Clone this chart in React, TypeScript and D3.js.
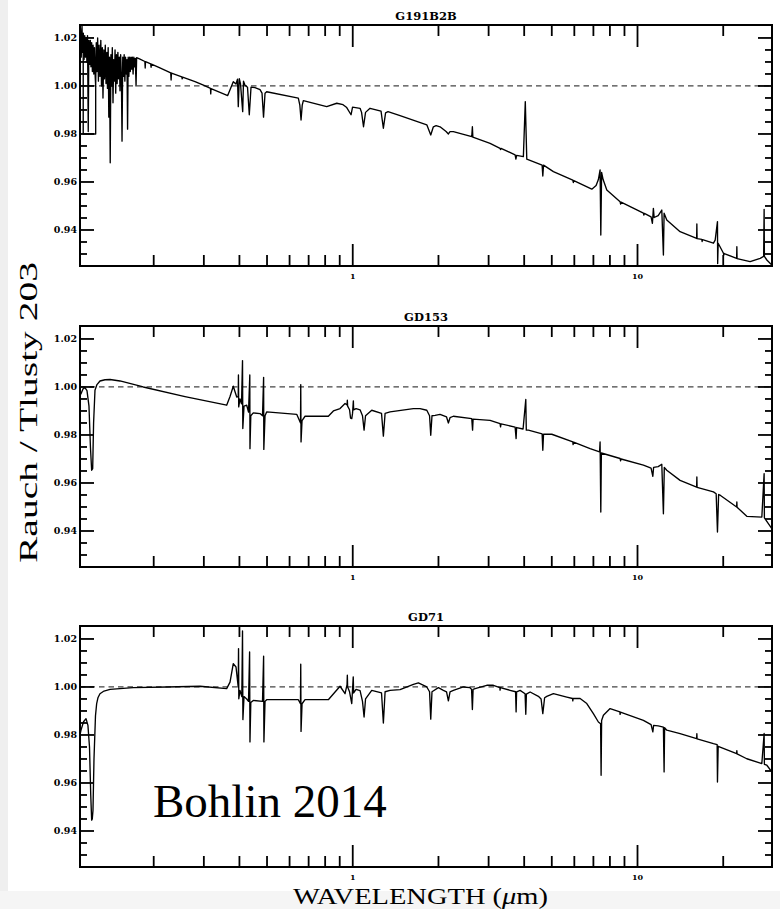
import React from 'react';
import * as d3 from 'd3';

// ---------- data (wavelength in micron, ratio Rauch / Tlusty 203) ----------
const PANEL_TITLES = ['G191B2B', 'GD153', 'GD71'];
const X_DOMAIN: [number, number] = [0.1102, 29.67];
const Y_DOMAIN: [number, number] = [0.925, 1.0254];
const X_MAJOR_TICKS = [1, 10];
const X_MINOR_TICKS = [0.2, 0.3, 0.4, 0.5, 0.6, 0.7, 0.8, 0.9, 2, 3, 4, 5, 6, 7, 8, 9, 20];
const X_TICK_LABELS = ['1', '10'];
const Y_MAJOR_TICKS = [0.94, 0.96, 0.98, 1.0, 1.02];
const Y_MINOR_TICKS = [0.93, 0.935, 0.945, 0.95, 0.955, 0.965, 0.97, 0.975, 0.985, 0.99, 0.995, 1.005, 1.01, 1.015];
const REFERENCE_LEVEL = 1.0;
const X_TITLE = 'WAVELENGTH (';
const X_TITLE_UNIT = 'μ';
const Y_TITLE = 'Rauch / Tlusty 203';
const ANNOTATION = 'Bohlin 2014';

const G191B2B_STEP: [number, number][] = [
  [0.1251, 1.0], [0.1251, 0.98], [0.1131, 0.98], [0.1131, 1.022],
];

const G191B2B_SPEC: [number, number][] = [
  [0.1102, 1.010], [0.1106, 1.024], [0.1113, 1.012], [0.1120, 1.025], [0.1126, 1.014], [0.1132, 1.022],
  [0.1139, 1.011], [0.1145, 1.021], [0.1152, 1.012], [0.1159, 1.020], [0.1165, 1.010], [0.1171, 1.021],
  [0.1178, 0.981], [0.1184, 1.019], [0.1191, 1.009], [0.1198, 1.019], [0.1204, 1.008], [0.1211, 1.018],
  [0.1218, 1.006], [0.1225, 1.017], [0.1232, 1.005], [0.1239, 1.016], [0.1246, 1.004], [0.1251, 1.000],
  [0.1257, 1.018], [0.1264, 1.006], [0.1271, 1.020], [0.1279, 1.002], [0.1286, 1.017], [0.1295, 1.004],
  [0.1304, 1.019], [0.1311, 1.000], [0.1320, 1.016], [0.1327, 0.995], [0.1336, 1.015], [0.1343, 1.003],
  [0.1352, 1.017], [0.1360, 1.001], [0.1369, 1.014], [0.1376, 0.999], [0.1384, 1.016], [0.1391, 0.987],
  [0.1399, 1.012], [0.1407, 0.968], [0.1415, 1.013], [0.1423, 1.000], [0.1431, 1.016], [0.1439, 0.993],
  [0.1447, 1.011], [0.1456, 1.002], [0.1463, 1.015], [0.1471, 0.997], [0.1480, 1.013], [0.1488, 1.001],
  [0.1497, 1.014], [0.1505, 1.003], [0.1514, 1.012], [0.1523, 0.998], [0.1531, 1.013], [0.1540, 1.004],
  [0.1548, 0.977], [0.1557, 1.012], [0.1566, 1.004], [0.1575, 1.013], [0.1584, 1.002], [0.1593, 1.012],
  [0.1602, 1.005], [0.1611, 1.011], [0.1619, 0.982], [0.1627, 1.012], [0.1636, 1.004], [0.1646, 1.012],
  [0.1655, 1.006], [0.1665, 1.012], [0.1674, 1.007], [0.1683, 1.012], [0.1693, 1.005], [0.1703, 1.012],
  [0.1713, 1.008], [0.1723, 1.0115], [0.1734, 1.000], [0.1742, 1.0118],
  [0.1790, 1.0112], [0.1862, 1.0102], [0.1867, 1.0075], [0.1872, 1.0101], [0.1952, 1.0092], [0.1958, 1.0078],
  [0.1964, 1.0091], [0.2103, 1.0075], [0.2295, 1.0055], [0.2302, 1.0025], [0.2309, 1.0054], [0.2510, 1.0038],
  [0.2518, 1.0030], [0.2526, 1.0037], [0.2793, 1.0018], [0.3004, 1.0002], [0.3165, 0.9990], [0.3172, 0.9967],
  [0.3179, 0.9989], [0.3638, 0.9960],
  [0.3806, 1.0018], [0.3891, 1.0008], [0.3938, 1.0028], [0.3963, 0.9914], [0.3995, 1.0030], [0.4034, 1.0010],
  [0.4107, 0.9893], [0.4134, 1.0020], [0.4184, 1.0003], [0.4270, 0.9995], [0.4332, 0.9880], [0.4393, 0.9995],
  [0.4537, 0.9993], [0.4725, 0.9985], [0.4802, 0.9970], [0.4861, 0.9870], [0.4920, 0.9970], [0.4985, 0.9976],
  [0.6440, 0.9949], [0.6519, 0.9920], [0.6583, 0.9858], [0.6647, 0.9920], [0.6707, 0.9939], [0.8101, 0.9914],
  [0.8787, 0.9928], [0.9245, 0.9922], [0.9526, 0.9910], [0.9863, 0.9880], [0.9984, 0.9912], [1.061, 0.9907],
  [1.074, 0.9890], [1.091, 0.9830], [1.109, 0.9890], [1.150, 0.9907], [1.257, 0.9895], [1.281, 0.9824],
  [1.304, 0.9888], [1.330, 0.9893], [1.466, 0.9876], [1.820, 0.9838], [1.879, 0.9796], [1.919, 0.9830],
  [1.962, 0.9835], [2.026, 0.9830], [2.127, 0.9810], [2.167, 0.9800], [2.196, 0.9810], [2.256, 0.9810],
  [2.618, 0.9789], [2.631, 0.9830], [2.641, 0.9787], [3.036, 0.9761], [3.291, 0.9740], [3.304, 0.9735],
  [3.317, 0.9740], [3.717, 0.9713], [3.741, 0.9695], [3.762, 0.9711], [3.974, 0.9706], [4.036, 0.9935],
  [4.085, 0.9695], [4.624, 0.9670], [4.650, 0.9625], [4.677, 0.9670], [5.066, 0.9643], [5.926, 0.9608],
  [5.951, 0.9598], [5.975, 0.9606], [6.911, 0.9570], [7.155, 0.9585], [7.288, 0.9610], [7.389, 0.9650],
  [7.432, 0.9379], [7.481, 0.9640], [7.572, 0.9610], [7.802, 0.9567], [8.687, 0.9518], [8.722, 0.9508],
  [8.757, 0.9516], [10.49, 0.9470], [10.53, 0.9462], [10.57, 0.9469], [11.16, 0.9455], [11.28, 0.9428],
  [11.37, 0.9490], [11.44, 0.9452], [11.82, 0.9460], [12.17, 0.9483], [12.33, 0.9296], [12.40, 0.9470],
  [12.67, 0.9442], [14.11, 0.9393], [16.13, 0.9365], [16.16, 0.9425], [16.19, 0.9364], [16.82, 0.9361],
  [16.86, 0.9352], [16.92, 0.9360], [18.48, 0.9345], [18.74, 0.9358], [19.09, 0.9435], [19.12, 0.9260],
  [19.20, 0.9345], [20.04, 0.9303], [20.09, 0.9295], [20.16, 0.9302], [22.29, 0.9282], [22.33, 0.9330],
  [22.37, 0.9281], [24.86, 0.9268], [26.96, 0.9282], [27.73, 0.9290], [27.84, 0.9486], [27.90, 0.9290],
  [28.46, 0.9275], [29.63, 0.9254],
];

const GD153_SPEC: [number, number][] = [
  [0.1102, 0.9965], [0.1111, 0.9972], [0.1129, 0.9992], [0.1147, 0.9997], [0.1166, 0.9985], [0.1185, 0.9920],
  [0.1199, 0.9750], [0.1211, 0.9653], [0.1221, 0.9660], [0.1230, 0.9850], [0.1244, 0.9986], [0.1264, 1.0010],
  [0.1295, 1.0025], [0.1349, 1.0030], [0.1405, 1.0031], [0.1523, 1.0025], [0.1838, 1.0000], [0.2576, 0.9960],
  [0.3608, 0.9924], [0.3707, 0.9960], [0.3806, 1.0003], [0.3860, 0.9980], [0.3913, 0.9958], [0.3961, 0.9960],
  [0.3968, 1.0050], [0.3977, 0.9917], [0.4018, 0.9950], [0.4068, 0.9930], [0.4101, 1.0110], [0.4111, 0.9827],
  [0.4151, 0.9920], [0.4243, 0.9924], [0.4305, 0.9895], [0.4350, 1.0050], [0.4356, 0.9743], [0.4385, 0.9880],
  [0.4474, 0.9892], [0.4725, 0.9889], [0.4821, 0.9880], [0.4864, 1.0040], [0.4872, 0.9740], [0.4920, 0.9880],
  [0.4985, 0.9896], [0.6357, 0.9886], [0.6556, 0.9850], [0.6567, 1.0010], [0.6583, 0.9771], [0.6637, 0.9860],
  [0.6800, 0.9878], [0.8208, 0.9878], [0.8550, 0.9900], [0.9024, 0.9910], [0.9397, 0.9931], [0.9550, 0.9925],
  [0.9572, 0.9945], [0.9596, 0.9920], [0.9745, 0.9905], [0.9824, 0.9870], [0.9920, 0.9868], [0.9984, 0.9890],
  [1.005, 0.9942], [1.0073, 0.9905], [1.027, 0.9910], [1.061, 0.9905], [1.082, 0.9880], [1.096, 0.9820],
  [1.109, 0.9880], [1.166, 0.9903], [1.262, 0.9890], [1.281, 0.9795], [1.299, 0.9890], [1.352, 0.9896],
  [1.633, 0.9910], [1.723, 0.9910], [1.820, 0.9903], [1.861, 0.9880], [1.879, 0.9799], [1.898, 0.9880],
  [1.946, 0.9882], [2.026, 0.9886], [2.135, 0.9875], [2.167, 0.9850], [2.196, 0.9872], [2.256, 0.9878],
  [2.618, 0.9868], [2.635, 0.9820], [2.646, 0.9866], [3.036, 0.9861], [3.291, 0.9847], [3.304, 0.9834],
  [3.317, 0.9846], [3.717, 0.9833], [3.747, 0.9785], [3.762, 0.9831], [3.964, 0.9825], [4.052, 0.9948],
  [4.069, 0.9820], [4.138, 0.9820], [4.624, 0.9805], [4.650, 0.9736], [4.677, 0.9803], [5.000, 0.9803],
  [5.926, 0.9771], [5.941, 0.9760], [5.965, 0.9770], [6.816, 0.9743], [7.359, 0.9730], [7.389, 0.9771],
  [7.432, 0.9479], [7.466, 0.9725], [8.687, 0.9702], [8.722, 0.9692], [8.757, 0.9700], [10.49, 0.9674],
  [11.16, 0.9662], [11.32, 0.9628], [11.39, 0.9665], [11.82, 0.9668], [12.17, 0.9678], [12.33, 0.9472],
  [12.42, 0.9665], [12.67, 0.9653], [14.11, 0.9611], [16.13, 0.9583], [16.16, 0.9625], [16.19, 0.9582],
  [18.48, 0.9563], [18.89, 0.9555], [19.09, 0.9396], [19.27, 0.9552], [19.51, 0.9549], [22.29, 0.9500],
  [22.33, 0.9521], [22.37, 0.9499], [24.20, 0.9461], [27.33, 0.9458], [27.84, 0.9639], [27.90, 0.9455],
  [29.63, 0.9410],
];

const GD71_SPEC: [number, number][] = [
  [0.1102, 0.9800], [0.1111, 0.9820], [0.1134, 0.9855], [0.1157, 0.9868], [0.1175, 0.9840], [0.1190, 0.9750],
  [0.1202, 0.9550], [0.1211, 0.9445], [0.1217, 0.9450], [0.1224, 0.9486], [0.1234, 0.9700], [0.1249, 0.9880],
  [0.1261, 0.9931], [0.1274, 0.9955], [0.1295, 0.9972], [0.1338, 0.9983], [0.1405, 0.9990], [0.1694, 0.9997],
  [0.2222, 1.0000], [0.2909, 1.0003], [0.3608, 0.9993], [0.3707, 1.0020], [0.3806, 1.0097], [0.3891, 1.0083],
  [0.3961, 1.0000], [0.3971, 1.0160], [0.3980, 0.9951], [0.4018, 0.9986], [0.4078, 0.9960], [0.4101, 1.0233],
  [0.4114, 0.9864], [0.4151, 0.9960], [0.4243, 0.9950], [0.4305, 0.9940], [0.4343, 1.0146], [0.4356, 0.9771],
  [0.4385, 0.9935], [0.4474, 0.9944], [0.4821, 0.9940], [0.4864, 1.0128], [0.4876, 0.9771], [0.4920, 0.9940],
  [0.4985, 0.9947], [0.6440, 0.9947], [0.6552, 0.9930], [0.6567, 1.0095], [0.6583, 0.9815], [0.6637, 0.9930],
  [0.6800, 0.9947], [0.8208, 0.9947], [0.8667, 0.9979], [0.9024, 1.0003], [0.9397, 0.9972], [0.9550, 1.0010],
  [0.9572, 1.0049], [0.9596, 1.0000], [0.9745, 0.9980], [0.9920, 0.9931], [1.004, 1.0042], [1.0073, 0.9975],
  [1.027, 0.9990], [1.061, 0.9985], [1.082, 0.9940], [1.096, 0.9875], [1.109, 0.9950], [1.166, 0.9986],
  [1.262, 0.9975], [1.281, 0.9850], [1.299, 0.9980], [1.352, 0.9986], [1.466, 0.9989], [1.633, 1.0011],
  [1.700, 1.0017], [1.820, 1.0000], [1.861, 0.9980], [1.879, 0.9866], [1.898, 0.9980], [1.999, 0.9997],
  [2.081, 0.9986], [2.135, 0.9980], [2.167, 0.9942], [2.196, 0.9980], [2.256, 0.9986], [2.446, 1.0000],
  [2.582, 0.9997], [2.614, 0.9990], [2.631, 0.9906], [2.646, 0.9990], [2.689, 0.9993], [2.956, 1.0007],
  [3.118, 1.0007], [3.286, 0.9997], [3.291, 0.9987], [3.299, 0.9997], [3.569, 0.9986], [3.731, 0.9980],
  [3.747, 0.9896], [3.762, 0.9980], [3.870, 0.9986], [4.029, 0.9972], [4.052, 0.9886], [4.072, 0.9970],
  [4.196, 0.9979], [4.486, 0.9961], [4.586, 0.9950], [4.650, 0.9889], [4.718, 0.9955], [4.802, 0.9961],
  [5.066, 0.9972], [5.646, 0.9958], [5.916, 0.9952], [5.926, 0.9942], [5.941, 0.9952], [6.287, 0.9952],
  [6.636, 0.9931], [6.999, 0.9889], [7.288, 0.9854], [7.420, 0.9847], [7.450, 0.9632], [7.481, 0.9860],
  [7.590, 0.9882], [8.013, 0.9910], [8.673, 0.9896], [8.687, 0.9886], [8.708, 0.9895], [10.49, 0.9861],
  [11.16, 0.9843], [11.32, 0.9813], [11.39, 0.9840], [11.82, 0.9838], [12.33, 0.9833], [12.40, 0.9646],
  [12.45, 0.9830], [12.67, 0.9820], [14.11, 0.9806], [16.13, 0.9785], [16.16, 0.9805], [16.19, 0.9784],
  [18.48, 0.9764], [19.04, 0.9760], [19.09, 0.9604], [19.20, 0.9753], [22.29, 0.9722], [22.33, 0.9735],
  [22.37, 0.9721], [24.20, 0.9701], [27.33, 0.9681], [27.84, 0.9806], [27.90, 0.9678], [28.46, 0.9674],
  [29.63, 0.9646],
];

const PANEL_SERIES = [[G191B2B_STEP, G191B2B_SPEC], [GD153_SPEC], [GD71_SPEC]];

// ---------- layout ----------
const W = 780;
const H = 909;
const LEFT = 80;
const RIGHT = 772;
const PANEL_TOPS = [25, 326, 626];
const PANEL_H = 241;
const TICK_FONT = '"DejaVu Serif", serif';
const TEXT_FONT = '"Liberation Serif", "Times New Roman", serif';

export default function App() {
  const x = d3.scaleLog().domain(X_DOMAIN).range([LEFT, RIGHT]);
  const fmt = d3.format('.2f');

  return (
    <svg
      width={W}
      height={H}
      style={{ position: 'absolute', left: 0, top: 0, display: 'block' }}
      xmlns="http://www.w3.org/2000/svg"
    >
      <rect x={0} y={0} width={W} height={H} fill="#ffffff" />
      <rect x={0} y={0} width={8} height={H} fill="#efefef" />
      <rect x={0} y={891} width={W} height={H - 891} fill="#f5f5f5" />
      <defs>
        {PANEL_TOPS.map((top, i) => (
          <clipPath id={`clip${i}`} key={i}>
            <rect x={LEFT} y={top} width={RIGHT - LEFT} height={PANEL_H} />
          </clipPath>
        ))}
      </defs>
      {PANEL_TOPS.map((top, i) => {
        const bottom = top + PANEL_H;
        const y = d3.scaleLinear().domain(Y_DOMAIN).range([bottom, top]);
        const line = d3
          .line<[number, number]>()
          .x((d) => x(d[0]))
          .y((d) => y(d[1]));
        return (
          <g key={i}>
            <text
              x={(LEFT + RIGHT) / 2}
              y={top - 5}
              textAnchor="middle"
              fontFamily={TICK_FONT}
              fontWeight="bold"
              fontSize={11.5}
            >
              {PANEL_TITLES[i]}
            </text>
            <line
              x1={LEFT}
              x2={RIGHT}
              y1={y(REFERENCE_LEVEL)}
              y2={y(REFERENCE_LEVEL)}
              stroke="#444"
              strokeWidth={1.3}
              strokeDasharray="5.5,4"
            />
            <g clipPath={`url(#clip${i})`}>
              {PANEL_SERIES[i].map((s, k) => (
                <path
                  key={k}
                  d={line(s) || ''}
                  fill="none"
                  stroke="#000"
                  strokeWidth={1.35}
                  strokeLinejoin="round"
                />
              ))}
            </g>
            {X_MAJOR_TICKS.map((t) => (
              <g key={`xM${t}`} stroke="#000" strokeWidth={1.8}>
                <line x1={x(t)} x2={x(t)} y1={top} y2={top + 22} />
                <line x1={x(t)} x2={x(t)} y1={bottom} y2={bottom - 22} />
              </g>
            ))}
            {X_MINOR_TICKS.map((t) => (
              <g key={`xm${t}`} stroke="#000" strokeWidth={1.8}>
                <line x1={x(t)} x2={x(t)} y1={top} y2={top + 11} />
                <line x1={x(t)} x2={x(t)} y1={bottom} y2={bottom - 11} />
              </g>
            ))}
            {X_MAJOR_TICKS.map((t, k) => (
              <text
                key={`xl${t}`}
                x={x(t)}
                y={bottom + 12.5}
                textAnchor="middle"
                fontFamily={TICK_FONT}
                fontWeight="bold"
                fontSize={8}
              >
                {X_TICK_LABELS[k]}
              </text>
            ))}
            {Y_MAJOR_TICKS.map((t) => (
              <g key={`yM${t}`} stroke="#000" strokeWidth={1.8}>
                <line x1={LEFT} x2={LEFT + 14} y1={y(t)} y2={y(t)} />
                <line x1={RIGHT} x2={RIGHT - 14} y1={y(t)} y2={y(t)} />
              </g>
            ))}
            {Y_MINOR_TICKS.map((t) => (
              <g key={`ym${t}`} stroke="#000" strokeWidth={1.8}>
                <line x1={LEFT} x2={LEFT + 7} y1={y(t)} y2={y(t)} />
                <line x1={RIGHT} x2={RIGHT - 7} y1={y(t)} y2={y(t)} />
              </g>
            ))}
            {Y_MAJOR_TICKS.map((t) => (
              <text
                key={`yl${t}`}
                x={LEFT - 3}
                y={y(t) + 3.5}
                textAnchor="end"
                fontFamily={TICK_FONT}
                fontWeight="bold"
                fontSize={9.5}
              >
                {fmt(t)}
              </text>
            ))}
            <rect
              x={LEFT}
              y={top}
              width={RIGHT - LEFT}
              height={PANEL_H}
              fill="none"
              stroke="#000"
              strokeWidth={2}
            />
          </g>
        );
      })}
      <text
        transform="translate(37,412.5) rotate(-90)"
        textAnchor="middle"
        fontFamily={TEXT_FONT}
        fontSize={25}
        textLength={301}
        lengthAdjust="spacingAndGlyphs"
      >
        {Y_TITLE}
      </text>
      <text
        x={293}
        y={903.5}
        fontFamily={TEXT_FONT}
        fontSize={24}
        textLength={255}
        lengthAdjust="spacingAndGlyphs"
      >
        {X_TITLE}
        <tspan fontStyle="italic">{X_TITLE_UNIT}</tspan>
        {'m)'}
      </text>
      <text x={153} y={817} fontFamily={TEXT_FONT} fontSize={47}>
        {ANNOTATION}
      </text>
    </svg>
  );
}
